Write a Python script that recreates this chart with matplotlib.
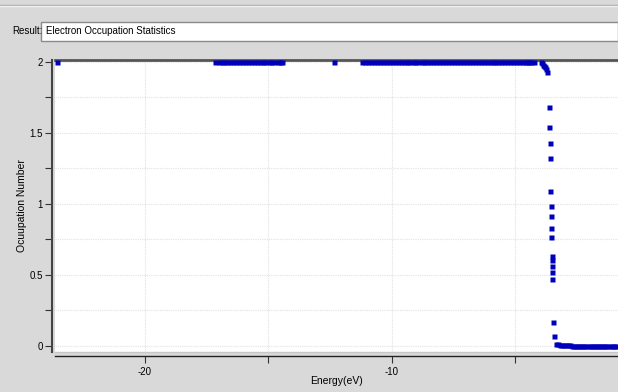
import matplotlib
matplotlib.use("Agg")
import matplotlib.pyplot as plt
from matplotlib.patches import Rectangle
from matplotlib.lines import Line2D
from matplotlib.ticker import MultipleLocator, FixedLocator

plt.rcParams['font.family'] = ['Liberation Sans', 'DejaVu Sans']

# ---- data ----
energy_deep = [-23.55]
occ_deep = [2.0]

energy_band1 = [-17.15, -17.02, -16.90, -16.81, -16.69, -16.55, -16.44, -16.31,
                -16.20, -16.08, -15.95, -15.83, -15.72, -15.60, -15.48, -15.35,
                -15.24, -15.12, -14.99, -14.88, -14.76, -14.63, -14.52, -14.46]
occ_band1 = [2.0] * len(energy_band1)

energy_single = [-12.35]
occ_single = [2.0]

energy_band2 = [-11.20, -11.08, -10.97, -10.85, -10.72, -10.61, -10.49, -10.36,
                -10.25, -10.13, -10.01, -9.88, -9.77, -9.65, -9.52, -9.41, -9.29,
                -9.16, -9.05, -8.93, -8.80, -8.69, -8.57, -8.44, -8.33, -8.21,
                -8.08, -7.97, -7.85, -7.72, -7.61, -7.49, -7.37, -7.25, -7.13,
                -7.01, -6.89, -6.77, -6.65, -6.53, -6.41, -6.29, -6.17, -6.05,
                -5.93, -5.81, -5.69, -5.57, -5.45, -5.33, -5.21, -5.09, -4.97,
                -4.85, -4.73, -4.60, -4.53, -4.47, -4.38, -4.27]
occ_band2 = [2.0] * len(energy_band2)

energy_edge = [-3.97, -3.93, -3.89, -3.85, -3.81, -3.77, -3.73,
               -3.64, -3.64, -3.62, -3.62, -3.60, -3.56, -3.56, -3.56, -3.56,
               -3.52, -3.52, -3.52, -3.52, -3.52, -3.48, -3.44]
occ_edge = [2.0, 1.99, 1.98, 1.97, 1.96, 1.95, 1.93,
            1.683, 1.542, 1.430, 1.320, 1.092, 0.987, 0.914, 0.832, 0.767,
            0.633, 0.605, 0.565, 0.518, 0.471, 0.171, 0.072]

energy_tail = [-3.36, -3.28, -3.20, -3.12, -3.04, -2.96, -2.88, -2.80, -2.72,
               -2.64, -2.55, -2.47, -2.38, -2.30, -2.21, -2.13, -2.04, -1.96,
               -1.87, -1.79, -1.70, -1.62, -1.53, -1.45, -1.36, -1.28, -1.19,
               -1.11, -1.02, -0.94]
occ_tail = [0.014, 0.012, 0.010, 0.009, 0.008, 0.007, 0.006, 0.005, 0.003,
            0.002, 0.002, 0.001, 0.001, 0.001, 0.001, 0.0, 0.0, 0.0,
            0.0, 0.0, 0.0, 0.0, 0.0, 0.0, 0.0, 0.0, 0.0,
            0.0, 0.0, 0.0]

x_major = [-20, -10]
x_minor = [-15, -5]
y_major = [0, 0.5, 1, 1.5, 2]
y_major_labels = ["0", "0.5", "1", "1.5", "2"]
x_major_labels = ["-20", "-10"]
title_text = "Electron Occupation Statistics"

BG = "#d9d9d9"
W, H = 618, 392
fig = plt.figure(figsize=(W / 100, H / 100), dpi=100, facecolor=BG)

# top border line
fig.add_artist(Line2D([0, 1], [1 - 5 / H, 1 - 5 / H], transform=fig.transFigure,
                      color="#a8a8a8", lw=1))
fig.add_artist(Line2D([0, 1], [1 - 6 / H, 1 - 6 / H], transform=fig.transFigure,
                      color="#f0f0f0", lw=1))

# Result: text field
fig.text(12 / W, 1 - 31 / H, "Result:", fontsize=7, va="center", ha="left")
fig.add_artist(Rectangle((41 / W, 1 - 41 / H), (W - 41) / W, 19 / H,
                         transform=fig.transFigure, facecolor="white",
                         edgecolor="#8a8a8a", lw=1))
fig.text(46 / W, 1 - 31 / H, title_text, fontsize=7, va="center", ha="left")

ax_left, ax_top, ax_bottom = 55, 60, 352
ax_w, ax_h = W - ax_left, ax_bottom - ax_top
ax = fig.add_axes([ax_left / W, 1 - ax_bottom / H, ax_w / W, ax_h / H])
ax.set_facecolor("white")

series = [(energy_deep, occ_deep), (energy_band1, occ_band1),
          (energy_single, occ_single), (energy_band2, occ_band2),
          (energy_edge, occ_edge), (energy_tail, occ_tail)]
for ex, oy in series:
    ax.plot(ex, oy, ls="none", marker="s", ms=3.6, mec="none",
            color="#0000bb", zorder=3, clip_on=False)

ax.set_xlim(-23.64, -0.85)
ax.set_ylim(-0.042, 2.012)

ax.xaxis.set_major_locator(FixedLocator(x_major))
ax.xaxis.set_minor_locator(FixedLocator(x_minor))
ax.yaxis.set_minor_locator(MultipleLocator(0.25))
ax.set_yticks(y_major)
ax.set_yticklabels(y_major_labels)
ax.set_xticklabels(x_major_labels)

ax.grid(True, which="both", color="#e2e2e2", ls=(0, (1, 1)), lw=0.8)
ax.set_axisbelow(True)

ax.spines["right"].set_visible(False)
ax.spines["top"].set_color("#555555")
ax.spines["top"].set_linewidth(2.0)
ax.spines["left"].set_color("#444444")
ax.spines["left"].set_linewidth(1.5)
ax.spines["left"].set_position(("outward", 2))
ax.spines["bottom"].set_color("#222222")
ax.spines["bottom"].set_linewidth(1.0)
ax.spines["bottom"].set_position(("outward", 3))
ax.plot([0, 1], [0, 0], transform=ax.transAxes, color="#c8c8c8", lw=1,
        clip_on=False, zorder=1)

ax.tick_params(axis="both", which="both", direction="out", length=5,
               width=0.8, color="#333333", labelsize=7, pad=2)
ax.tick_params(axis="x", which="major", pad=3)

ax.set_xlabel("Energy(eV)", fontsize=7.5)
ax.set_ylabel("Ocuupation Number", fontsize=7.5)
ax.yaxis.set_label_coords((22 - ax_left) / ax_w, 0.5)
ax.xaxis.set_label_coords(0.5, -(381 - ax_bottom) / ax_h)
ax.xaxis.label.set_va("center")
ax.yaxis.label.set_va("center")

fig.savefig("out.png", dpi=100, facecolor=BG)
